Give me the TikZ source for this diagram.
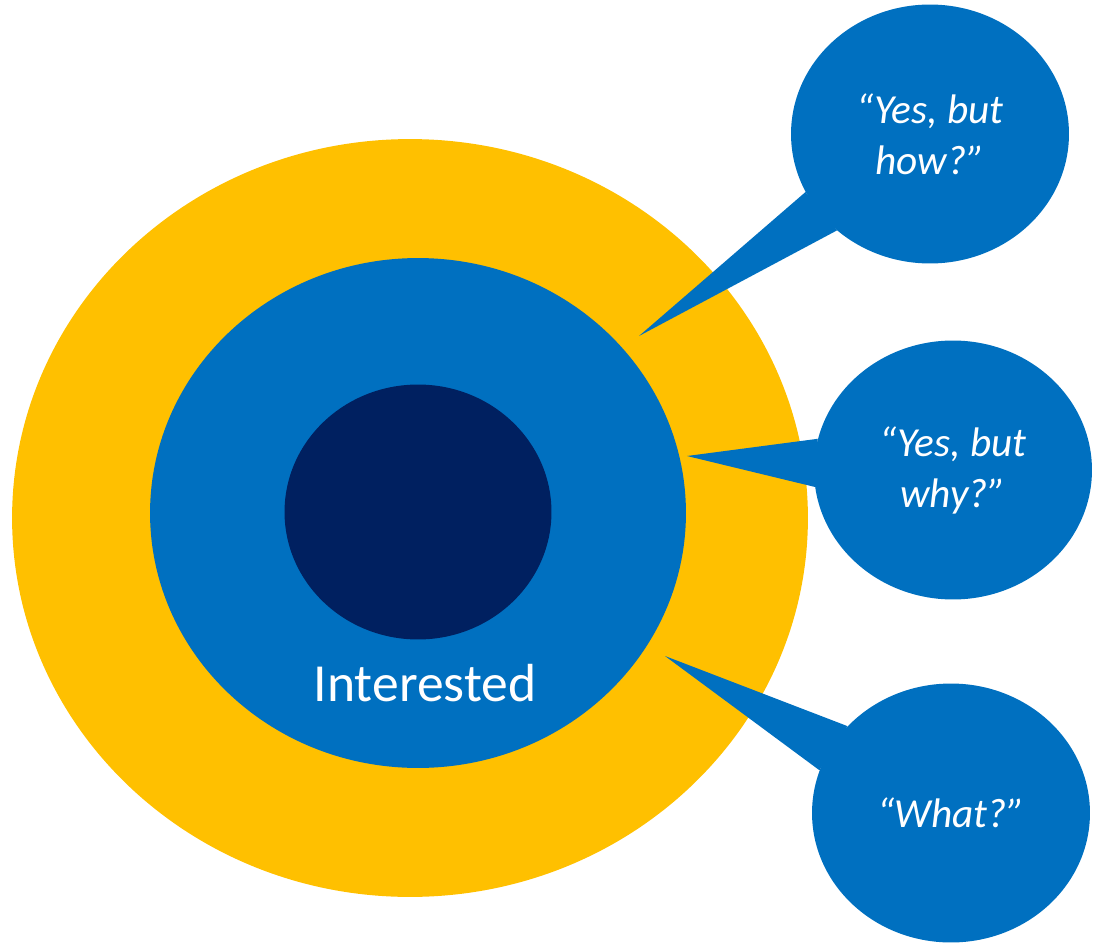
\documentclass[tikz,border=0pt]{standalone}
\usepackage{fontspec}
\setmainfont{Carlito}
\usepackage{tikz}
\usetikzlibrary{shapes.geometric}
\usetikzlibrary{positioning}
\definecolor{ringyellow}{HTML}{FFC000}
\definecolor{ringblue}{HTML}{0070C0}
\definecolor{ringnavy}{HTML}{002060}
\begin{document}
\begin{tikzpicture}[x=0.02cm,y=-0.02cm,every node/.style={ellipse,inner sep=0pt},
  bubble/.style={fill=ringblue,minimum width=5.56cm,minimum height=5.18cm,text=white,align=center,font=\fontsize{23.5}{29}\selectfont\itshape}]
  \useasboundingbox (0,0) rectangle (1102,946);
  \node[fill=ringyellow,minimum width=15.92cm,minimum height=15.16cm] (outer) at (410,518) {};
  \node[fill=ringblue,minimum width=10.72cm,minimum height=10.2cm] (middle) at (418,513) {};
  \node[fill=ringnavy,minimum width=5.34cm,minimum height=5.1cm] (core) at (418,512) {};
  \node[rectangle,anchor=base,text=white,font=\fontsize{30.5}{36}\selectfont] (interested) at (425,701) {Interested};

  \coordinate (howtip) at (639,336);
  \coordinate (whytip) at (687,456);
  \coordinate (whattip) at (665,656);

  \node[bubble] (how) at (930,134) {“Yes, but\\how?”};
  \node[bubble] (why) at (953,470) {“Yes, but\\why?”};
  \node[bubble] (what) at (951,813) {“What?”};

  \fill[ringblue](how.205)--(howtip)--(how.226)--cycle;
  \fill[ringblue](why.167)--(whytip)--(why.187)--cycle;
  \fill[ringblue](what.140)--(whattip)--(what.162)--cycle;
\end{tikzpicture}
\end{document}
